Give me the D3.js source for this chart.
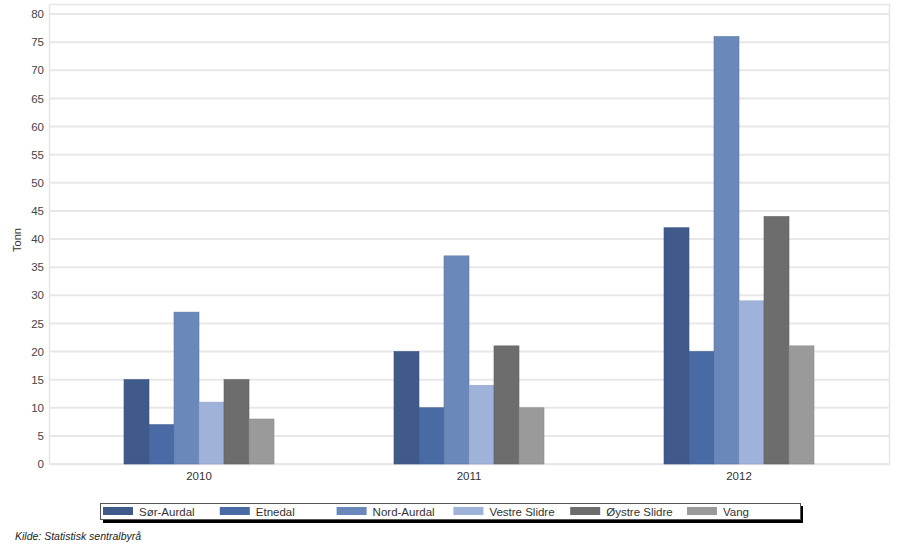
<!DOCTYPE html>
<html><head><meta charset="utf-8">
<script src="https://cdn.jsdelivr.net/npm/d3@7"></script>
<style>body{margin:0;background:#fff}text{font-family:Arial,"Liberation Sans",sans-serif}</style>
</head><body><svg id="c" width="897" height="544"></svg>
<script>
const years = ["2010","2011","2012"];
const series = ["Sør-Aurdal","Etnedal","Nord-Aurdal","Vestre Slidre","Øystre Slidre","Vang"];
const sorAurdal = [15,20,42];
const etnedal = [7,10,20];
const nordAurdal = [27,37,76];
const vestreSlidre = [11,14,29];
const oystreSlidre = [15,21,44];
const vang = [8,10,21];
const yTicks = [0,5,10,15,20,25,30,35,40,45,50,55,60,65,70,75,80];
const colors = ["#3f5a8b","#4a6aa6","#6b88ba","#9fb2da","#6d6d6d","#9a9a9a"];
const values = [sorAurdal,etnedal,nordAurdal,vestreSlidre,oystreSlidre,vang];

const svg = d3.select("#c");
const y = d3.scaleLinear().domain([0,80]).range([464,14]);
const x0 = d3.scaleBand().domain(years).range([64,874]);
const x1 = d3.scaleBand().domain(series).range([0,150]);

svg.append("rect").attr("x",49.5).attr("y",4.5).attr("width",840).attr("height",460)
  .attr("fill","none").attr("stroke","#e6e6e6").attr("stroke-width",1.5);
svg.append("g").selectAll("line").data(yTicks).join("line")
  .attr("x1",50).attr("x2",890).attr("y1",d=>y(d)).attr("y2",d=>y(d))
  .attr("stroke","#e8e8e8").attr("stroke-width",2);

const ya = svg.append("g").attr("transform","translate(49,0)")
  .call(d3.axisLeft(y).tickValues(yTicks).tickSize(0).tickPadding(5));
ya.select(".domain").remove();
ya.selectAll("text").attr("font-size",11.5).attr("fill","#444").attr("font-family","Arial, 'Liberation Sans', sans-serif");

const xa = svg.append("g").attr("transform","translate(0,464)")
  .call(d3.axisBottom(x0).tickSize(0).tickPadding(8));
xa.select(".domain").remove();
xa.selectAll("text").attr("font-size",11.5).attr("fill","#333").attr("font-family","Arial, 'Liberation Sans', sans-serif");

years.forEach((yr,i)=>{
  const off = x0(yr) + (x0.bandwidth()-150)/2;
  series.forEach((s,j)=>{
    svg.append("rect").attr("x",off+x1(s)).attr("width",x1.bandwidth())
      .attr("y",y(values[j][i])).attr("height",y(0)-y(values[j][i]))
      .attr("fill",colors[j]).attr("stroke",d3.color(colors[j]).darker(0.3)).attr("stroke-width",0.6);
  });
});

svg.append("text").attr("transform","translate(21,240) rotate(-90)").attr("text-anchor","middle")
  .attr("font-size",11).attr("fill","#333").text("Tonn");

svg.append("rect").attr("x",103).attr("y",506).attr("width",700).attr("height",17).attr("fill","#000");
svg.append("rect").attr("x",100.5).attr("y",503.5).attr("width",700).attr("height",16).attr("fill","#fff").attr("stroke","#555").attr("stroke-width",1);
const lg = svg.append("g").selectAll("g").data(series).join("g")
  .attr("transform",(d,i)=>`translate(${103+i*116.8},0)`);
lg.append("rect").attr("x",0).attr("y",507).attr("width",30).attr("height",8).attr("fill",(d,i)=>colors[i]);
lg.append("text").attr("x",36).attr("y",515.5).attr("font-size",11.5).attr("fill","#333").text(d=>d);

svg.append("text").attr("x",15).attr("y",540).attr("font-size",10.5).attr("font-style","italic").attr("fill","#222")
  .text("Kilde: Statistisk sentralbyrå");
</script></body></html>
